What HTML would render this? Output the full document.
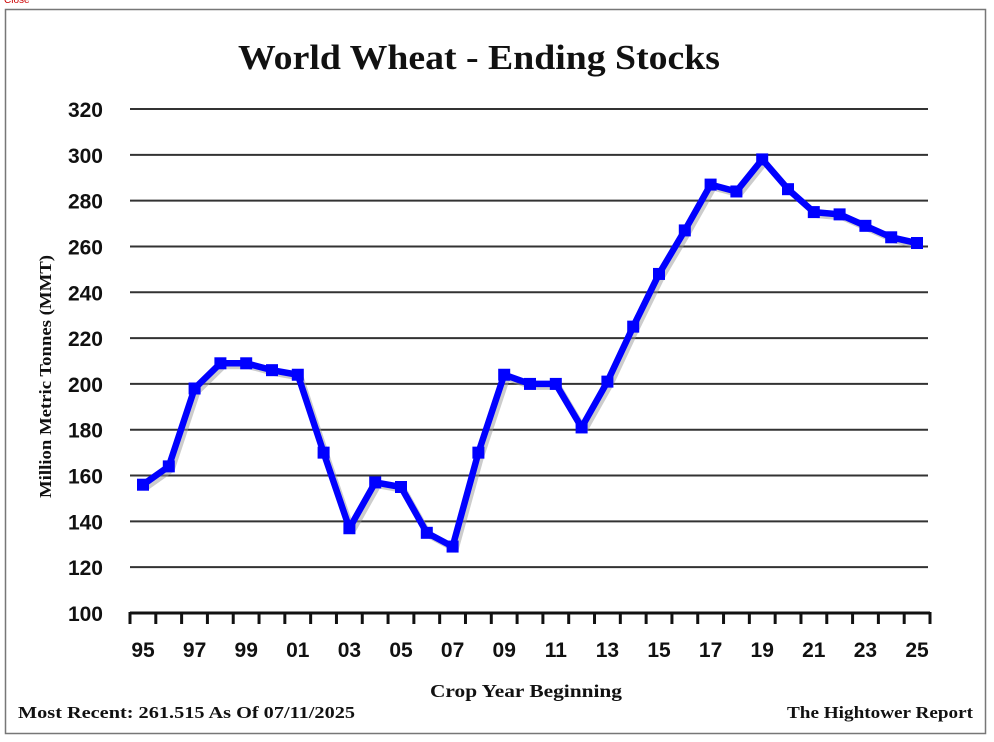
<!DOCTYPE html>
<html><head><meta charset="utf-8"><style>
body{margin:0;background:#fff;width:994px;height:737px;overflow:hidden}
text{font-family:"Liberation Serif",serif;font-weight:bold;fill:#111}
.t{font-family:"Liberation Sans",sans-serif;font-size:21px}
</style></head><body>
<svg id="s" width="994" height="737" xmlns="http://www.w3.org/2000/svg">
<text x="4" y="3" font-size="10" fill="#c00" style="fill:#c00;font-weight:normal;font-family:'Liberation Sans',sans-serif">Close</text>
<rect x="5.5" y="9.5" width="980" height="724" fill="#fff" stroke="#777" stroke-width="1.5"/>
<text x="238" y="69" font-size="35" textLength="482" lengthAdjust="spacingAndGlyphs">World Wheat - Ending Stocks</text>
<g id="grid" stroke="#333" stroke-width="2"></g>
<g id="yl"></g>
<line x1="130" y1="613" x2="930" y2="613" stroke="#111" stroke-width="3"/>
<g id="ticks" stroke="#111" stroke-width="3"></g>
<g id="xl"></g>
<text transform="translate(51,498) rotate(-90)" font-size="17" textLength="243" lengthAdjust="spacingAndGlyphs">Million Metric Tonnes (MMT)</text>
<text x="430" y="697" font-size="18" textLength="192" lengthAdjust="spacingAndGlyphs">Crop Year Beginning</text>
<text x="18" y="718" font-size="17" textLength="337" lengthAdjust="spacingAndGlyphs">Most Recent: 261.515 As Of 07/11/2025</text>
<text x="787" y="718" font-size="17" textLength="186" lengthAdjust="spacingAndGlyphs">The Hightower Report</text>
<g id="ser"></g>
</svg>
<script>
var NS="http://www.w3.org/2000/svg";
function el(t,a,p){var e=document.createElementNS(NS,t);for(var k in a)e.setAttribute(k,a[k]);document.getElementById(p).appendChild(e);return e;}
function Y(v){return 613-(v-100)*504/220;}
for(var v=120;v<=320;v+=20){el("line",{x1:130,x2:928,y1:Y(v),y2:Y(v)},"grid");}
for(var v=100;v<=320;v+=20){var t=el("text",{x:103,y:Y(v)+8,"text-anchor":"end","class":"t"},"yl");t.textContent=v;}
for(var k=0;k<=31;k++){var x=130+k*800/31;el("line",{x1:x,x2:x,y1:612,y2:624},"ticks");}
var lab=["95","97","99","01","03","05","07","09","11","13","15","17","19","21","23","25"];
for(var i=0;i<lab.length;i++){var t=el("text",{x:143+i*2*25.8,y:657,"text-anchor":"middle","class":"t"},"xl");t.textContent=lab[i];}
var d=[156,164,198,209,209,206,204,170,137,157,155,135,129,170,204,200,200,181,201,225,248,267,287,284,298,285,275,274,269,264,261.5];
var pts=d.map(function(v,i){return (143+i*25.8)+","+Y(v)}).join(" ");
el("polyline",{points:pts,fill:"none",stroke:"#999","stroke-width":6,opacity:0.5,transform:"translate(3,3)","stroke-linejoin":"round"},"ser");
el("polyline",{points:pts,fill:"none",stroke:"#0000ff","stroke-width":6.5,"stroke-linejoin":"round"},"ser");
d.forEach(function(v,i){el("rect",{x:143+i*25.8-6,y:Y(v)-6,width:12,height:12,fill:"#0000ff"},"ser");});
</script>
</body></html>
